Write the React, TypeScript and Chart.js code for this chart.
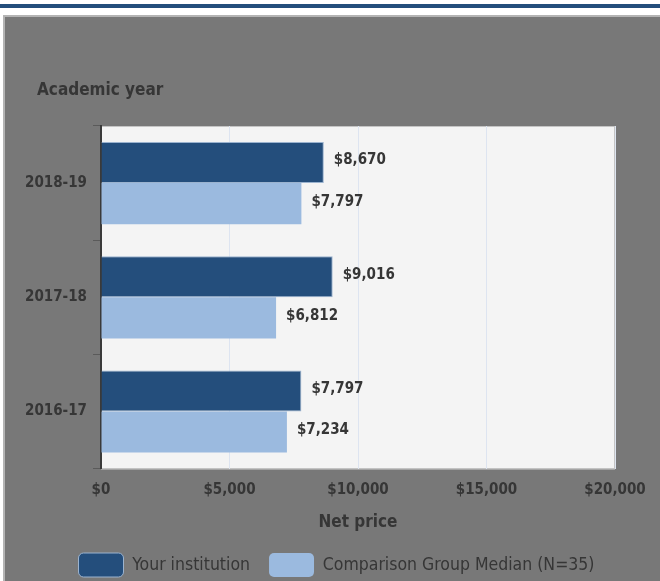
import React, { useEffect, useRef } from "react";
import { Chart, registerables } from "chart.js";

Chart.register(...registerables);

const categories = ["2018-19", "2017-18", "2016-17"];
const yourInstitution = [8670, 9016, 7797];
const comparisonMedian = [7797, 6812, 7234];
const seriesNames = ["Your institution", "Comparison Group Median (N=35)"];
const xTickValues = [0, 5000, 10000, 15000, 20000];
const yAxisTitle = "Academic year";
const xAxisTitle = "Net price";

const FONT = "'DejaVu Sans Condensed', 'Liberation Sans Narrow', 'DejaVu Sans', sans-serif";
const TEXT = "#363636";
const DARK = "#244e7c";
const LIGHT = "#9bbadf";

const fmt = (v: number) => "$" + v.toLocaleString("en-US");

const plotBg = {
  id: "plotBg",
  beforeDraw(chart: any) {
    const { ctx, chartArea: a } = chart;
    ctx.save();
    ctx.fillStyle = "#f4f4f4";
    ctx.fillRect(a.left, a.top, a.right - a.left, a.bottom - a.top);
    ctx.strokeStyle = "#c4c4c4";
    ctx.lineWidth = 1;
    ctx.strokeRect(a.left + 0.5, a.top + 0.5, a.right - a.left - 1, a.bottom - a.top);
    ctx.restore();
  },
};

const topTitle = {
  id: "topTitle",
  afterDraw(chart: any) {
    const { ctx } = chart;
    ctx.save();
    ctx.font = `bold 17px ${FONT}`;
    ctx.fillStyle = TEXT;
    ctx.textAlign = "left";
    ctx.textBaseline = "middle";
    ctx.fillText(yAxisTitle, 37, 91);
    ctx.restore();
  },
};

const legendShift = {
  id: "legendShift",
  afterLayout(chart: any) {
    if (chart.legend) chart.legend.left += 38;
  },
};

const valueLabels = {
  id: "valueLabels",
  afterDatasetsDraw(chart: any) {
    const { ctx } = chart;
    ctx.save();
    ctx.font = `bold 15px ${FONT}`;
    ctx.fillStyle = TEXT;
    ctx.textAlign = "left";
    ctx.textBaseline = "middle";
    chart.data.datasets.forEach((ds: any, di: number) => {
      const meta = chart.getDatasetMeta(di);
      meta.data.forEach((el: any, i: number) => {
        ctx.fillText(fmt(ds.data[i]), el.x + 10, el.y - 2);
      });
    });
    ctx.restore();
  },
};

export default function App() {
  const ref = useRef<HTMLCanvasElement>(null);
  useEffect(() => {
    document.body.style.margin = "0";
    const chart = new Chart(ref.current!, {
      type: "bar",
      data: {
        labels: categories,
        datasets: [
          {
            label: seriesNames[0],
            data: yourInstitution,
            backgroundColor: DARK,
            borderColor: "#9bb3cf",
            borderWidth: 1,
            categoryPercentage: 0.72,
            barPercentage: 1,
          },
          {
            label: seriesNames[1],
            data: comparisonMedian,
            backgroundColor: LIGHT,
            borderWidth: 0,
            categoryPercentage: 0.72,
            barPercentage: 1,
          },
        ],
      },
      options: {
        indexAxis: "y",
        animation: false,
        responsive: false,
        layout: { padding: { left: 20, right: 45, top: 126, bottom: 13 } },
        scales: {
          x: {
            min: 0,
            max: 20000,
            afterBuildTicks: (axis: any) => {
              axis.ticks = xTickValues.map((v) => ({ value: v }));
            },
            ticks: {
              color: TEXT,
              font: { family: FONT, size: 15, weight: "bold" },
              padding: 13,
              callback: (v: any) => fmt(Number(v)),
              maxRotation: 0,
            },
            grid: {
              color: "#dde4f0",
              drawTicks: false,
              lineWidth: 1,
            },
            border: { display: false },
            title: {
              display: true,
              text: xAxisTitle,
              color: TEXT,
              font: { family: FONT, size: 17, weight: "bold" },
              padding: { top: 0, bottom: 1 },
            },
          },
          y: {
            afterFit: (axis: any) => {
              axis.width = 81;
            },
            ticks: {
              color: TEXT,
              font: { family: FONT, size: 15, weight: "bold" },
              padding: 6,
            },
            grid: {
              offset: true,
              drawOnChartArea: false,
              color: "#5a5a5a",
              tickLength: 8,
            },
            border: { display: true, color: "#3a3a3a", width: 2 },
          },
        },
        plugins: {
          title: { display: false },
          legend: {
            position: "bottom",
            labels: {
              boxWidth: 45,
              boxHeight: 24,
              useBorderRadius: true,
              borderRadius: 5,
              color: TEXT,
              font: { family: FONT, size: 17.5 },
              padding: 19,
            },
          },
          tooltip: { enabled: false },
        },
      },
      plugins: [plotBg, valueLabels, topTitle, legendShift],
    } as any);
    return () => chart.destroy();
  }, []);

  return (
    <div style={{ position: "relative", width: 660, height: 581, overflow: "hidden", background: "#fff" }}>
      <div style={{ position: "absolute", left: 0, top: 4, width: 660, height: 4, background: "#244e7c" }} />
      <div
        style={{
          position: "absolute",
          left: 3,
          top: 15,
          width: 680,
          height: 600,
          background: "#787878",
          borderTop: "2px solid #b4b4b4",
          borderLeft: "2px solid #b4b4b4",
        }}
      />
      <canvas ref={ref} width={660} height={600} style={{ position: "absolute", left: 0, top: 0 }} />
    </div>
  );
}
